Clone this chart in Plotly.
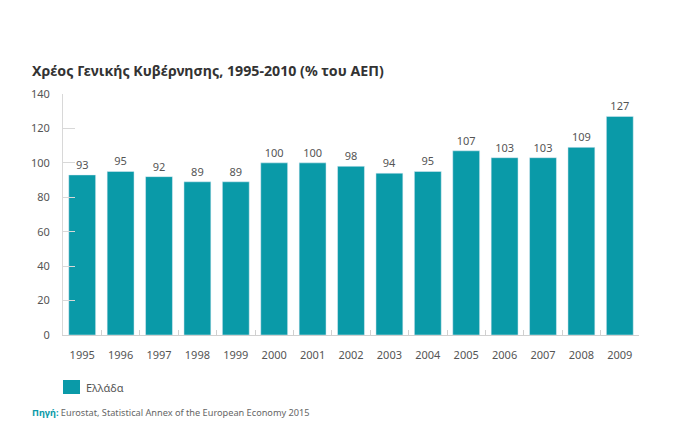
import plotly.graph_objects as go

years = ["1995", "1996", "1997", "1998", "1999", "2000", "2001", "2002",
         "2003", "2004", "2005", "2006", "2007", "2008", "2009"]
debt = [93, 95, 92, 89, 89, 100, 100, 98, 94, 95, 107, 103, 103, 109, 127]
series_name = "Ελλάδα"
title_text = "Χρέος Γενικής Κυβέρνησης, 1995-2010 (% του ΑΕΠ)"
source_label = "Πηγή:"
source_text = "Eurostat, Statistical Annex of the European Economy 2015"
y_ticks = [0, 20, 40, 60, 80, 100, 120, 140]

BAR = "#0a9aa8"
FONT = "Noto Sans, Open Sans, DejaVu Sans, sans-serif"

# page has an 8px body margin: work in page pixels, subtract offset
OFF = 8
W, H = 680 - OFF, 439 - OFF
PL, PR, PT, PB = 63, 639, 94, 335  # plot area in page pixels
L, T = PL - OFF, PT - OFF
pw, ph = PR - PL, PB - PT
R = W - L - pw
B = H - T - ph


def px(x):
    return (x - PL) / pw


def py(y):
    return (PB - y) / ph


fig = go.Figure()
fig.add_trace(go.Bar(
    x=years, y=debt, name=series_name, marker_color=BAR,
    text=[str(v) for v in debt], textposition="outside",
    textfont=dict(size=11, color="#555555", family=FONT),
    outsidetextfont=dict(size=11, color="#555555", family=FONT),
    cliponaxis=False, showlegend=False,
))

fig.update_layout(
    width=W, height=H,
    margin=dict(l=L, r=R, t=T, b=B),
    paper_bgcolor="white", plot_bgcolor="white",
    bargap=0.3,
    font=dict(family=FONT, color="#555555", size=11),
    showlegend=False,
    xaxis=dict(
        showgrid=False, showline=True, linecolor="#d0d0d0", linewidth=1,
        ticks="inside", tickson="boundaries", ticklen=5, tickcolor="#d0d0d0",
        tickfont=dict(size=11, color="#555555"), ticklabelstandoff=10,
    ),
    yaxis=dict(
        range=[0, 140], tickvals=y_ticks, showgrid=False,
        showline=True, linecolor="#d8d8d8", linewidth=1,
        ticks="inside", ticklen=12, tickcolor="#d8d8d8",
        tickfont=dict(size=11, color="#555555"), zeroline=False,
        ticklabelstandoff=10,
    ),
    shapes=[
        dict(type="rect", xref="paper", yref="paper",
             x0=px(63), x1=px(80), y0=py(394), y1=py(380),
             fillcolor=BAR, line=dict(width=0)),
    ],
    annotations=[
        dict(text="<b>" + title_text + "</b>", xref="paper", yref="paper",
             x=px(30), y=py(71), xanchor="left", yanchor="middle",
             showarrow=False, font=dict(size=14.2, color="#333333", family=FONT)),
        dict(text=series_name, xref="paper", yref="paper",
             x=px(84), y=py(387), xanchor="left", yanchor="middle",
             showarrow=False, font=dict(size=11, color="#555555", family=FONT)),
        dict(text="<b><span style='color:" + BAR + "'>" + source_label + "</span></b> " + source_text,
             xref="paper", yref="paper",
             x=px(30), y=py(412), xanchor="left", yanchor="middle",
             showarrow=False, font=dict(size=9.2, color="#666666", family=FONT)),
    ],
)

fig.write_html("out.html")
